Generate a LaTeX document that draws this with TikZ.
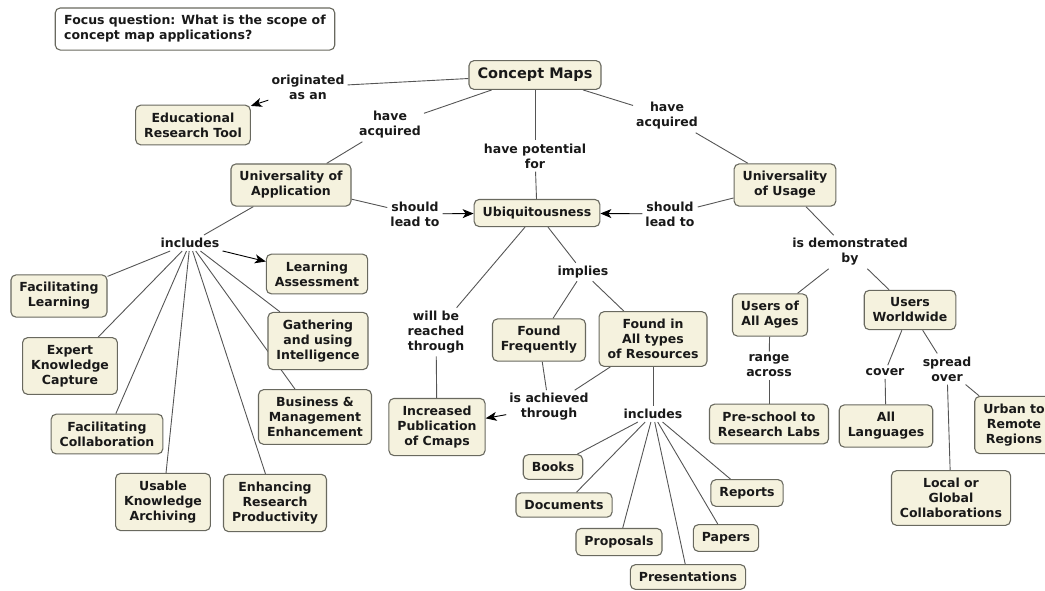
\documentclass[tikz,border=0pt]{standalone}
\usepackage{fontspec}
\setmainfont{DejaVu Sans}
\usetikzlibrary{arrows.meta,backgrounds}
\definecolor{cmapFill}{RGB}{245,242,222}
\definecolor{cmapEdge}{RGB}{105,105,95}
\definecolor{linkGray}{RGB}{85,85,85}
\definecolor{cmapText}{RGB}{25,25,25}

\begin{document}
\begin{tikzpicture}[x=1pt, y=-1pt, >={Stealth[length=11pt,width=9pt,inset=3pt]}]
        \tikzset{
           concept/.style={
                        rectangle,
                        rounded corners=5pt,
                        draw=cmapEdge,
                        line width=1.1pt,
                        fill=cmapFill,
                        text=cmapText,
                        font=\bfseries\fontsize{12.5}{15}\selectfont,
                        align=center,
                        inner xsep=8.5pt,
                        inner ysep=7.5pt
                       },
           focusbox/.style={
                        concept,
                        fill=white,
                        align=left,
                        inner xsep=9pt
                       },
           link/.style={
                        text=cmapText,
                        font=\bfseries\fontsize{12.5}{15}\selectfont,
                        align=center,
                        inner sep=3pt
                       },
           wire/.style={draw=linkGray, line width=0.9pt},
           arrowline/.style={draw=black, line width=0.9pt, ->}
                 };
        \useasboundingbox (0,0) rectangle (1045,590);
        %----------------
        \node[focusbox] (focus) at (195,29) {Focus question: What is the scope of\\concept map applications?};
        \node[concept, font=\bfseries\fontsize{14.5}{17}\selectfont] (cmaps) at (535,75) {Concept Maps};
        \node[concept] (edutool) at (193,125) {Educational\\Research Tool};
        \node[concept] (univApp) at (291,185) {Universality of\\Application};
        \node[concept] (ubiq) at (537,213) {Ubiquitousness};
        \node[concept] (univUse) at (785,185) {Universality\\of Usage};
        % left branch
        \node[concept] (learnAssess) at (317,274) {Learning\\Assessment};
        \node[concept] (facLearn) at (59,296) {Facilitating\\Learning};
        \node[concept] (expert) at (70,366) {Expert\\Knowledge\\Capture};
        \node[concept] (gather) at (318,341) {Gathering\\and using\\Intelligence};
        \node[concept] (business) at (315,417) {Business \&\\Management\\Enhancement};
        \node[concept] (facCollab) at (107,434) {Facilitating\\Collaboration};
        \node[concept] (archive) at (163,502) {Usable\\Knowledge\\Archiving};
        \node[concept] (enhance) at (275,503) {Enhancing\\Research\\Productivity};
        % middle branch
        \node[concept] (foundFreq) at (539,340) {Found\\Frequently};
        \node[concept] (foundAll) at (653,339) {Found in\\All types\\of Resources};
        \node[concept] (incPub) at (437,427) {Increased\\Publication\\of Cmaps};
        \node[concept] (books) at (553,467) {Books};
        \node[concept] (documents) at (564,505) {Documents};
        \node[concept] (proposals) at (619,542) {Proposals};
        \node[concept] (presentations) at (688,577) {Presentations};
        \node[concept] (papers) at (726,538) {Papers};
        \node[concept] (reports) at (747,493) {Reports};
        % right branch
        \node[concept] (usersAges) at (770,315) {Users of\\All Ages};
        \node[concept] (usersWorld) at (910,310) {Users\\Worldwide};
        \node[concept] (preschool) at (769,424) {Pre-school to\\Research Labs};
        \node[concept] (allLang) at (886,426) {All\\Languages};
        \node[concept] (urban) at (1014,425) {Urban to\\Remote\\Regions};
        \node[concept] (localGlobal) at (951,498) {Local or\\Global\\Collaborations};
        %----------------
        \node[link] (origAs) at (308,87) {originated\\as an};
        \node[link] (acqLeft) at (390,125) {have\\acquired};
        \node[link] (potential) at (535,156) {have potential\\for};
        \node[link] (acqRight) at (667,116) {have\\acquired};
        \node[link] (leadLeft) at (415,214) {should\\lead to};
        \node[link] (leadRight) at (670,214) {should\\lead to};
        \node[link] (demonstrated) at (850,252) {is demonstrated\\by};
        \node[link] (rangeAcross) at (769,366) {range\\across};
        \node[link] (cover) at (885,372) {cover};
        \node[link] (spreadOver) at (947,369) {spread\\over};
        \node[link] (inclLeft) at (190,243) {includes};
        \node[link] (implies) at (583,272) {implies};
        \node[link] (reached) at (436,332) {will be\\reached\\through};
        \node[link] (achieved) at (549,407) {is achieved\\through};
        \node[link] (inclMid) at (653,414) {includes};
        %----------------
        \begin{pgfonlayer}{background}
        \path[wire] (cmaps) edge (origAs)
              (cmaps) edge (acqLeft)
              (acqLeft) edge (univApp)
              (cmaps) edge (potential)
              (potential) edge (ubiq)
              (cmaps) edge (acqRight)
              (acqRight) edge (univUse)
              (univApp) edge (leadLeft)
              (univUse) edge (leadRight)
              (univUse) edge (demonstrated)
              (demonstrated) edge (usersAges)
              (demonstrated) edge (usersWorld)
              (usersAges) edge (rangeAcross)
              (rangeAcross) edge (preschool)
              (usersWorld) edge (cover)
              (cover) edge (allLang)
              (usersWorld) edge (spreadOver)
              (spreadOver) edge (localGlobal)
              (spreadOver) edge (urban)
              (univApp) edge (inclLeft)
              (inclLeft) edge (facLearn)
              (inclLeft) edge (expert)
              (inclLeft) edge (facCollab)
              (inclLeft) edge (archive)
              (inclLeft) edge (enhance)
              (inclLeft) edge (business)
              (inclLeft) edge (gather)
              (ubiq) edge (implies)
              (implies) edge (foundFreq)
              (implies) edge (foundAll)
              (ubiq) edge (reached)
              (reached) edge (incPub)
              (foundFreq) edge (achieved)
              (foundAll) edge (achieved)
              (foundAll) edge (inclMid)
              (inclMid) edge (books)
              (inclMid) edge (documents)
              (inclMid) edge (proposals)
              (inclMid) edge (presentations)
              (inclMid) edge (papers)
              (inclMid) edge (reports)
        ;
        \path[arrowline] (origAs) edge (edutool)
              (leadLeft) edge (ubiq)
              (leadRight) edge (ubiq)
              (inclLeft) edge (learnAssess)
              (achieved) edge (incPub)
        ;
        \end{pgfonlayer}
    \end{tikzpicture}
\end{document}
